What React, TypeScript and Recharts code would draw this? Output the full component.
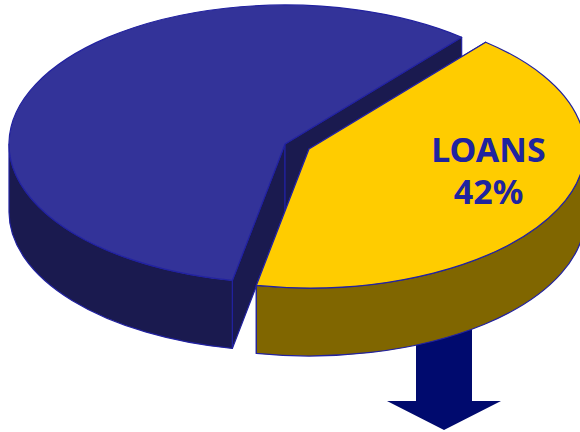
import React from "react";
import { Customized, Pie, PieChart } from "recharts";

// data
const categories = ["OTHER", "LOANS"];
const shares = [58, 42];
const data = categories.map((name, i) => ({ name, value: shares[i] }));

// look of the pie
const WIDTH = 580;
const HEIGHT = 432;
const SQUASH = 139 / 276;
const DEPTH = 68;
const LINE = "#2222a0";
const FACES: Record<string, { top: string; side: string; dx: number; dy: number }> = {
  OTHER: { top: "#333399", side: "#1a1a4f", dx: 0, dy: 0 },
  LOANS: { top: "#ffcc00", side: "#806600", dx: 24, dy: 5 },
};

const rad = (deg: number) => (deg * Math.PI) / 180;

function Slice(props: any) {
  const { cx, cy, outerRadius: r, name } = props;
  // the pie runs past -360, bring the angles back
  const turn = props.startAngle < -180 ? 360 : 0;
  const startAngle = props.startAngle + turn;
  const endAngle = props.endAngle + turn;
  const face = FACES[name] ?? FACES[props.payload?.name];
  const x0 = cx + face.dx;
  const y0 = cy + face.dy;
  const ry = r * SQUASH;
  const px = (a: number) => x0 + r * Math.cos(rad(a));
  const py = (a: number, drop = 0) => y0 - ry * Math.sin(rad(a)) + drop;
  const large = Math.abs(startAngle - endAngle) > 180 ? 1 : 0;

  // outer wall only shows on the front half of the ellipse
  const wallFrom = Math.min(startAngle, 0);
  const wallTo = Math.max(endAngle, -180);

  return (
    <g stroke={LINE} strokeWidth={1.2} strokeLinejoin="round">
      {/* cut faces */}
      <path
        fill={face.side}
        d={`M${x0},${y0} L${px(startAngle)},${py(startAngle)} L${px(startAngle)},${py(startAngle, DEPTH)} L${x0},${y0 + DEPTH} Z`}
      />
      <path
        fill={face.side}
        d={`M${x0},${y0} L${px(endAngle)},${py(endAngle)} L${px(endAngle)},${py(endAngle, DEPTH)} L${x0},${y0 + DEPTH} Z`}
      />
      {/* outer wall */}
      <path
        fill={face.side}
        d={`M${px(wallFrom)},${py(wallFrom)} A${r},${ry} 0 0 1 ${px(wallTo)},${py(wallTo)} L${px(wallTo)},${py(wallTo, DEPTH)} A${r},${ry} 0 0 0 ${px(wallFrom)},${py(wallFrom, DEPTH)} Z`}
      />
      {/* top */}
      <path
        fill={face.top}
        d={`M${x0},${y0} L${px(startAngle)},${py(startAngle)} A${r},${ry} 0 ${large} 1 ${px(endAngle)},${py(endAngle)} Z`}
      />
    </g>
  );
}

function SliceLabel(props: any) {
  const { cx, cy, outerRadius, midAngle, name, value } = props;
  if (name !== "LOANS") return null;
  const face = FACES[name];
  const r = outerRadius * 0.72;
  const x = cx + face.dx + r * Math.cos(rad(midAngle));
  const y = cy + face.dy - r * SQUASH * Math.sin(rad(midAngle));
  const style = { fontFamily: "'Noto Sans', sans-serif", fontWeight: 700, fontSize: 34 };
  return (
    <g fill="#1f249f" textAnchor="middle" style={style}>
      <text x={x} y={y - 30}>{name}</text>
      <text x={x} y={y + 12}>{value}%</text>
    </g>
  );
}

function Arrow() {
  return <polygon fill="#000a6e" points="416,320 472,320 472,401 501,401 444,430 387,401 416,401" />;
}

export default function App() {
  return (
    <div style={{ position: "absolute", left: 0, top: 0, width: WIDTH, height: HEIGHT, overflow: "hidden" }}>
      <PieChart width={WIDTH} height={HEIGHT} margin={{ top: 0, right: 0, bottom: 0, left: 0 }}>
        <Customized component={Arrow} />
        <Pie
          data={data}
          dataKey="value"
          nameKey="name"
          cx={285}
          cy={144}
          innerRadius={0}
          outerRadius={276}
          startAngle={-101}
          endAngle={-461}
          shape={Slice}
          label={SliceLabel}
          labelLine={false}
          isAnimationActive={false}
        />
      </PieChart>
    </div>
  );
}
